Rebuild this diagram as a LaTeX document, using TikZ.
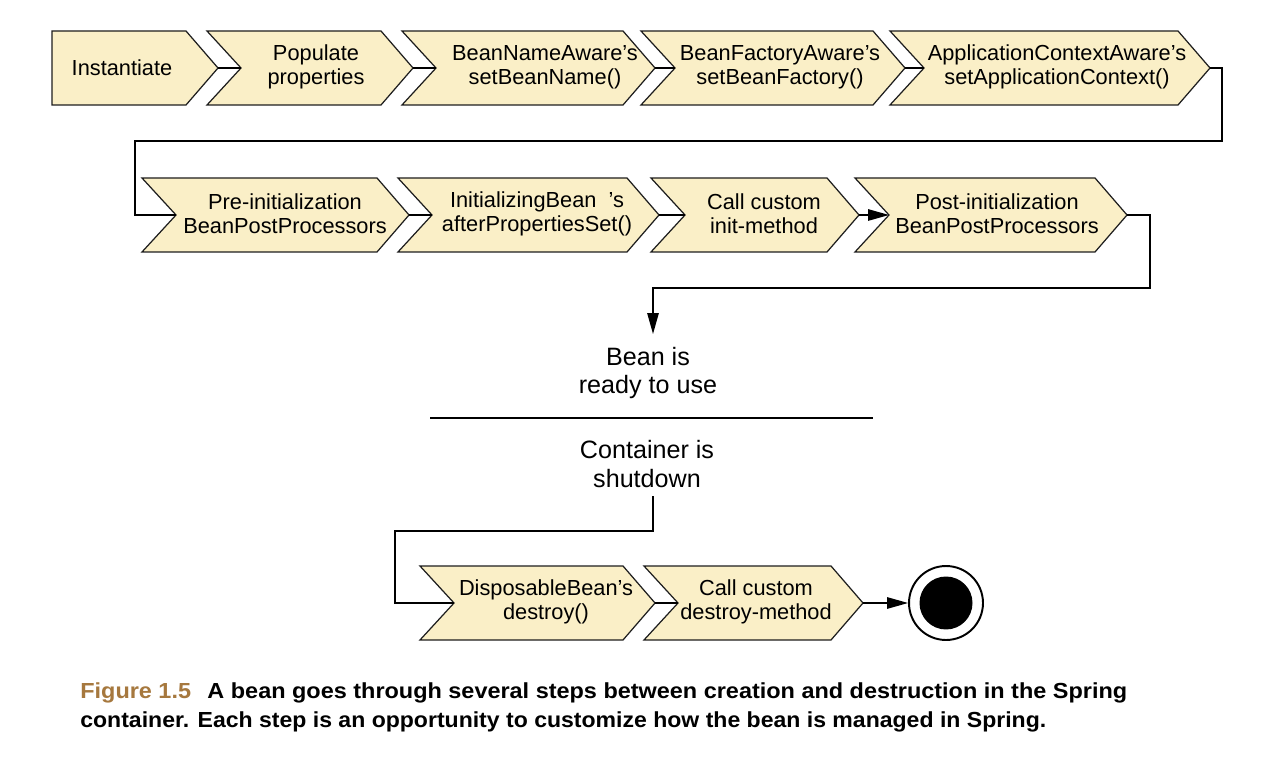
\documentclass[tikz,border=0pt]{standalone}
\usepackage{fontspec}
\usepackage{graphicx}
\setmainfont{Liberation Sans}
\usetikzlibrary{arrows.meta}
\definecolor{chevfill}{RGB}{250,239,199}
\definecolor{chevline}{RGB}{30,30,30}
\definecolor{figbrown}{RGB}{166,120,62}
\newcommand\tipd{32}
\newcommand\notd{34}
% chevron with notch: name, L, R, T, B
\newcommand\chevron[5]{%
  \draw[chev] (#2,#4) -- (#3,#4) -- ({#3+\tipd},{(#4+#5)/2}) coordinate (#1-tip)
    -- (#3,#5) -- (#2,#5) -- ({#2+\notd},{(#4+#5)/2}) coordinate (#1-notch) -- cycle;}
% chevron with flat left side
\newcommand\flatchevron[5]{%
  \draw[chev] (#2,#4) -- (#3,#4) -- ({#3+\tipd},{(#4+#5)/2}) coordinate (#1-tip)
    -- (#3,#5) -- (#2,#5) -- cycle;}
\begin{document}
\begin{tikzpicture}[x=0.02cm,y=-0.02cm,
  chev/.style={draw=chevline,fill=chevfill,line width=0.7pt,line join=miter},
  lbl/.style={font=\fontsize{12.4pt}{13.7pt}\selectfont,align=center,inner sep=0pt},
  midtext/.style={font=\fontsize{14.3pt}{16.5pt}\selectfont,align=center,inner sep=0pt},
  conn/.style={draw=black,line width=0.7pt},
  arr/.style={-{Triangle[length=0.42cm,width=0.23cm]}}]
\useasboundingbox (0,0) rectangle (1274,776);
\fill[white] (0,0) rectangle (1274,776);

% ---- row 1
\flatchevron{inst}{52}{186}{31}{105}
\chevron{pop}{207}{381}{31}{105}
\chevron{bna}{402}{623}{31}{105}
\chevron{bfa}{641}{873}{31}{105}
\chevron{aca}{890}{1178}{31}{105}
\node[lbl] (inst) at (122,68) {Instantiate};
\node[lbl] (pop) at (316,67) {Populate\\properties};
\node[lbl] (bna) at (545,67) {BeanNameAware's\\setBeanName()};
\node[lbl] (bfa) at (780,67) {BeanFactoryAware's\\setBeanFactory()};
\node[lbl] (aca) at (1057,67) {ApplicationContextAware's\\setApplicationContext()};

% ---- row 2
\chevron{pre}{142}{377}{178}{252}
\chevron{ib}{398}{627}{178}{252}
\chevron{cci}{651}{827}{178}{252}
\chevron{post}{855}{1095}{178}{252}
\node[lbl] (pre) at (285,214) {Pre-initialization\\BeanPostProcessors};
\node[lbl] (ib) at (537,214) {InitializingBean\ \ 's\\afterPropertiesSet()};
\node[lbl] (cci) at (764,214) {Call custom\\init-method};
\node[lbl] (post) at (997,214) {Post-initialization\\BeanPostProcessors};

% ---- middle texts
\node[midtext] (ready) at (648,373) {Bean is\\ready to use};
\node[midtext] (shut) at (647,464) {Container is\\shutdown};
\coordinate (sepL) at (430,418);
\coordinate (sepR) at (873,418);
\draw[line width=0.7pt] (sepL) -- (sepR);

% ---- row 3
\chevron{disp}{420}{623}{566}{640}
\chevron{ccd}{644}{831}{566}{640}
\node[lbl] (disp) at (546,602) {DisposableBean's\\destroy()};
\node[lbl] (ccd) at (756,602) {Call custom\\destroy-method};

% ---- end state
\node[circle,draw=black,line width=1.1pt,minimum size=1.48cm,inner sep=0pt] (endo) at (946,603) {};
\node[circle,fill=black,minimum size=1.06cm,inner sep=0pt] (endi) at (946,603) {};

% ---- connectors
\draw[conn] (inst-tip) -- (pop-notch);
\draw[conn] (pop-tip) -- (bna-notch);
\draw[conn] (bna-tip) -- (bfa-notch);
\draw[conn] (bfa-tip) -- (aca-notch);
\coordinate (r1) at (1222,141);
\coordinate (l1) at (135,141);
\draw[conn] (aca-tip) -| (r1) -- (l1) |- (pre-notch);
\draw[conn] (pre-tip) -- (ib-notch);
\draw[conn] (ib-tip) -- (cci-notch);
\draw[conn,arr] (cci-tip) -- (post-notch);
\coordinate (r2) at (1150,288);
\coordinate (l2) at (653,288);
\coordinate (beanin) at (653,334);
\draw[conn,arr] (post-tip) -| (r2) -- (l2) -- (beanin);
\coordinate (s0) at (653,496);
\coordinate (s1) at (653,531);
\coordinate (s2) at (395,531);
\draw[conn] (s0) -- (s1) -- (s2) |- (disp-notch);
\draw[conn] (disp-tip) -- (ccd-notch);
\draw[conn,arr] (ccd-tip) -- (endo.west);

% ---- caption
\node[anchor=base west,inner sep=0pt] (cap1) at (80,698) {\resizebox{20.94cm}{\height}{\fontsize{12.4pt}{14pt}\selectfont\bfseries{\color{figbrown}Figure 1.5}\hspace{0.7em}A bean goes through several steps between creation and destruction in the Spring}};
\node[anchor=base west,inner sep=0pt] (cap2) at (80,727) {\resizebox{19.32cm}{\height}{\fontsize{12.4pt}{14pt}\selectfont\bfseries container. Each step is an opportunity to customize how the bean is managed in Spring.}};
\end{tikzpicture}
\end{document}
